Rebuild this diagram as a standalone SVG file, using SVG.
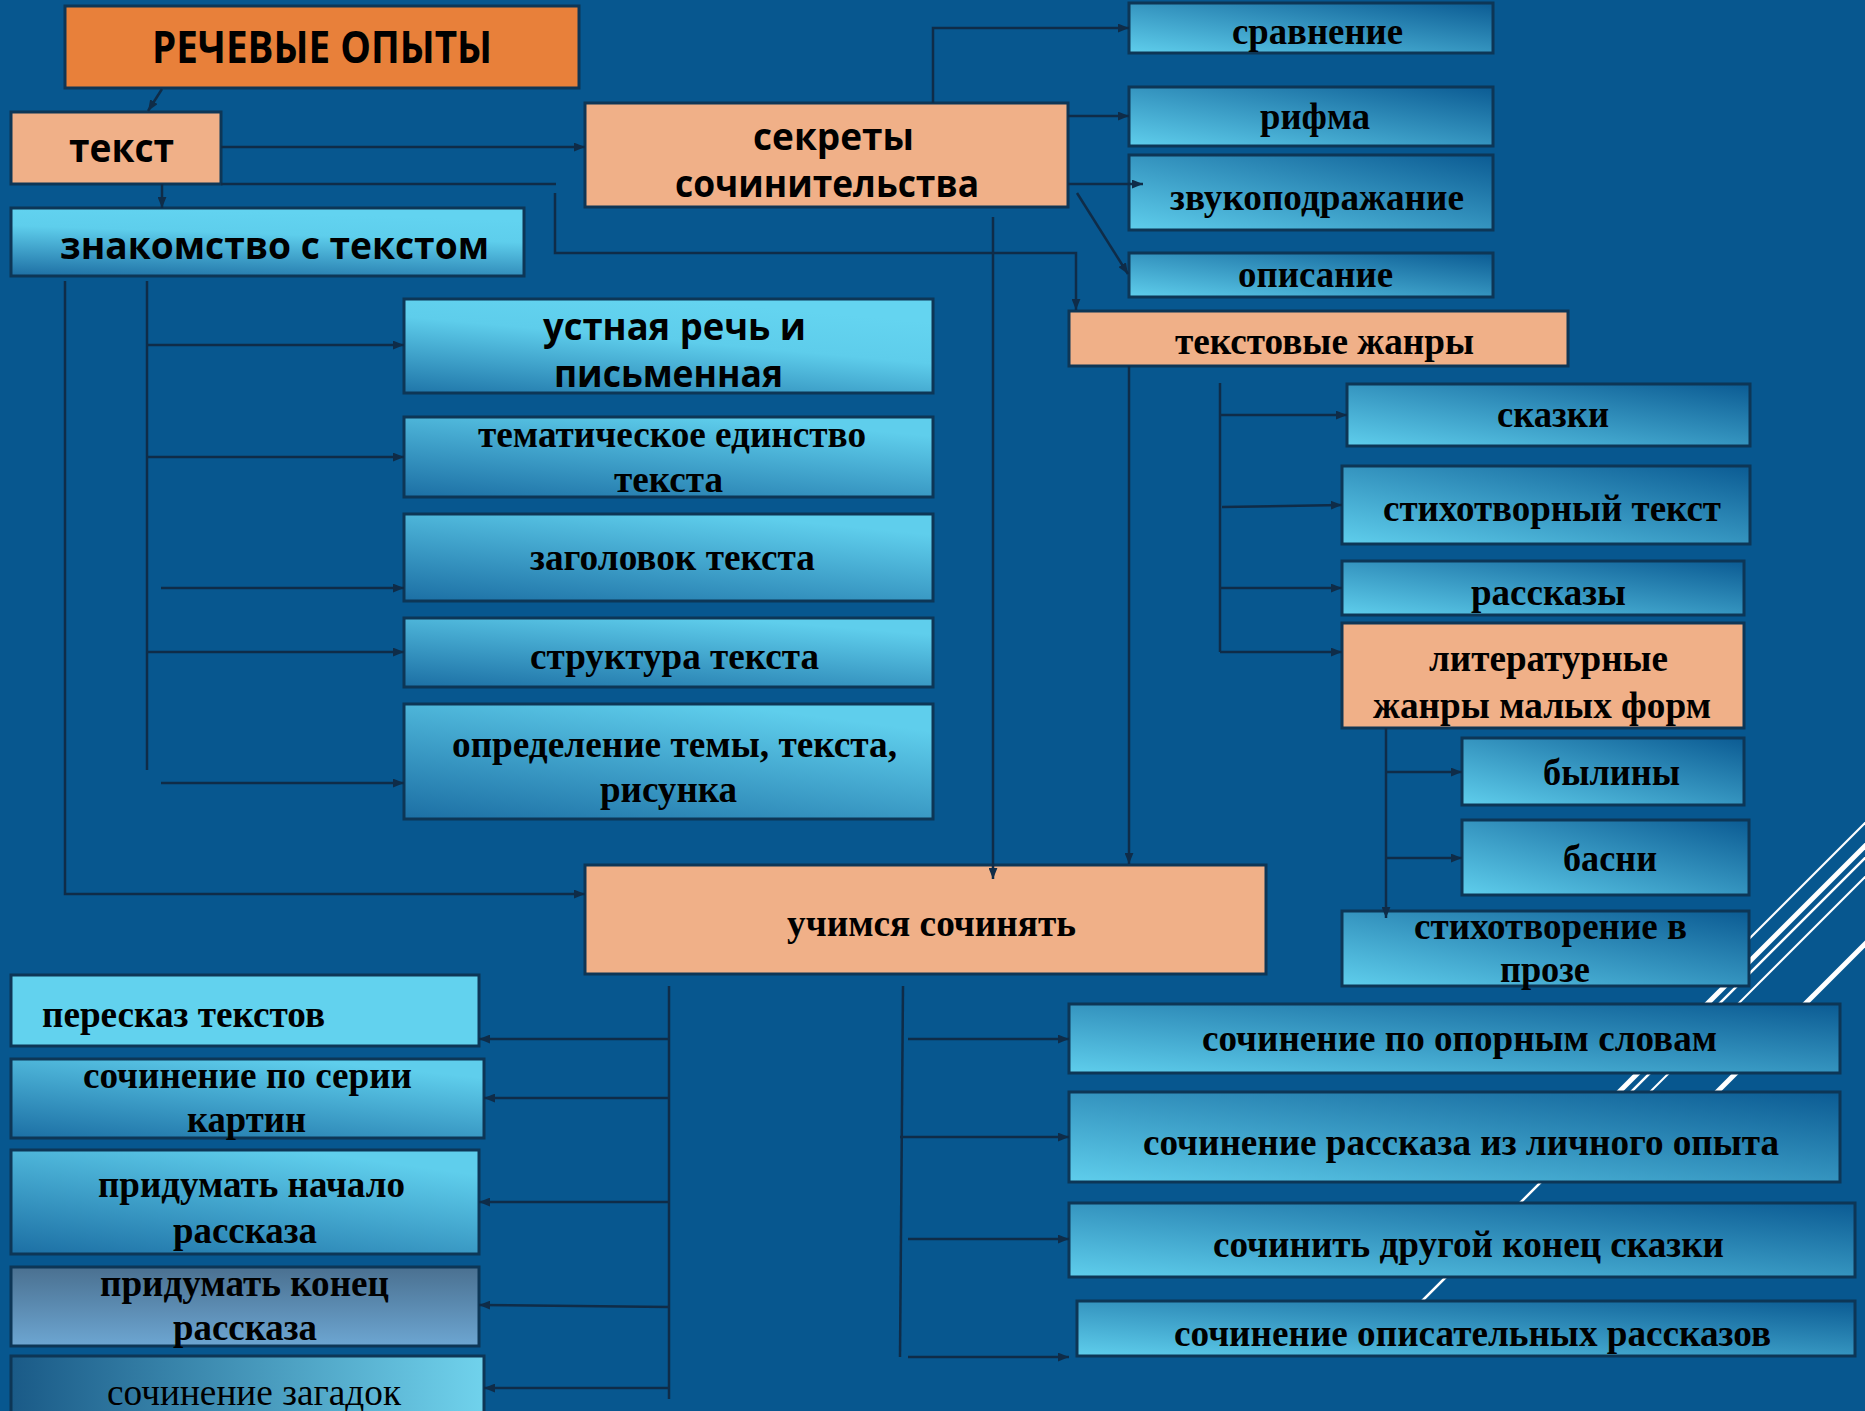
<svg xmlns="http://www.w3.org/2000/svg" width="1865" height="1411" viewBox="0 0 1865 1411">
<defs>
<style>
.bx{stroke:#0D3656;stroke-width:3}
.ln{fill:none;stroke:#0F2C48;stroke-width:2.5}
.ar{marker-end:url(#ah)}
.ss{font-family:"Open Sans","Noto Sans","DejaVu Sans",sans-serif;font-weight:700;fill:#000}
.sf{font-family:"Liberation Serif","Times New Roman",serif;font-weight:700;font-size:38px;fill:#000}
.st{stroke:#fff;fill:none}
.orange{fill:#E8803A}
.peach{fill:#F0B088}
.gA{fill:url(#gA)}
.gB{fill:url(#gB)}
.gU{fill:url(#gU)}
.gZ{fill:url(#gZ)}
.gK{fill:url(#gK)}
.gL{fill:url(#gL)}
.cy{fill:#62D2EE}
</style>
<marker id="ah" viewBox="0 0 10 8" refX="10" refY="4" markerWidth="11" markerHeight="9" markerUnits="userSpaceOnUse" orient="auto"><path d="M0,0 L10,4 L0,8 z" fill="#0F2C48"/></marker>
<linearGradient id="gA" x1="0" y1="1" x2="1" y2="0"><stop offset="0" stop-color="#5FCEEC"/><stop offset="1" stop-color="#0B5B93"/></linearGradient>
<linearGradient id="gB" x1="0" y1="1" x2="0.6" y2="0"><stop offset="0" stop-color="#1C6FA4"/><stop offset="1" stop-color="#5FCEEC"/></linearGradient>
<linearGradient id="gU" x1="0" y1="1" x2="0.5" y2="0"><stop offset="0" stop-color="#1F75A8"/><stop offset="0.65" stop-color="#5ECDEB"/><stop offset="1" stop-color="#64D4F0"/></linearGradient>
<linearGradient id="gZ" x1="0" y1="1" x2="0.25" y2="0"><stop offset="0" stop-color="#1D6EA3"/><stop offset="0.7" stop-color="#5ECEEC"/><stop offset="1" stop-color="#62D3F0"/></linearGradient>
<linearGradient id="gK" x1="0" y1="0" x2="0" y2="1"><stop offset="0" stop-color="#4A7090"/><stop offset="1" stop-color="#6DA6D2"/></linearGradient>
<linearGradient id="gL" x1="0" y1="0" x2="1" y2="0"><stop offset="0" stop-color="#1A5A87"/><stop offset="1" stop-color="#70D2EC"/></linearGradient>
</defs>
<rect width="1865" height="1411" fill="#07578F"/>
<g id="stripes">
<line class="st" stroke-width="2" x1="1875" y1="813" x2="1730" y2="958"/>
<line class="st" stroke-width="5" x1="1875" y1="836" x2="1560" y2="1151"/>
<line class="st" stroke-width="2.5" x1="1875" y1="848" x2="1400" y2="1323"/>
<line class="st" stroke-width="2" x1="1875" y1="867" x2="1580" y2="1162"/>
<line class="st" stroke-width="5" x1="1875" y1="934" x2="1660" y2="1149"/>
</g>
<g id="nodes">
<g id="n-rechevye"><rect class="bx orange" x="65" y="6" width="514" height="82"/><text class="ss" font-size="45" x="152" y="63" textLength="340" lengthAdjust="spacingAndGlyphs">РЕЧЕВЫЕ ОПЫТЫ</text></g>
<g id="n-tekst"><rect class="bx peach" x="11" y="112" width="210" height="72"/><text class="ss" font-size="40" x="69" y="162" textLength="105" lengthAdjust="spacingAndGlyphs">текст</text></g>
<g id="n-sekrety"><rect class="bx peach" x="585" y="103" width="483" height="104"/><text class="ss" font-size="37" x="753" y="150" textLength="161" lengthAdjust="spacingAndGlyphs">секреты</text><text class="ss" font-size="37" x="675" y="197" textLength="304" lengthAdjust="spacingAndGlyphs">сочинительства</text></g>
<g id="n-znakomstvo"><rect class="bx gZ" x="11" y="208" width="513" height="68"/><text class="ss" font-size="38" x="60" y="259" textLength="429" lengthAdjust="spacingAndGlyphs">знакомство с текстом</text></g>
<g id="n-sravnenie"><rect class="bx gA" x="1129" y="3" width="364" height="50"/><text class="sf" x="1232" y="44" textLength="171" lengthAdjust="spacingAndGlyphs">сравнение</text></g>
<g id="n-rifma"><rect class="bx gA" x="1129" y="87" width="364" height="59"/><text class="sf" x="1260" y="129" textLength="110" lengthAdjust="spacingAndGlyphs">рифма</text></g>
<g id="n-zvuko"><rect class="bx gA" x="1129" y="155" width="364" height="75"/><text class="sf" x="1170" y="210" textLength="294" lengthAdjust="spacingAndGlyphs">звукоподражание</text></g>
<g id="n-opisanie"><rect class="bx gA" x="1129" y="253" width="364" height="44"/><text class="sf" x="1238" y="287" textLength="155" lengthAdjust="spacingAndGlyphs">описание</text></g>
<g id="n-zhanry"><rect class="bx peach" x="1069" y="311" width="499" height="55"/><text class="sf" x="1175" y="354" textLength="299" lengthAdjust="spacingAndGlyphs">текстовые жанры</text></g>
<g id="n-ustnaya"><rect class="bx gU" x="404" y="299" width="529" height="94"/><text class="ss" font-size="37" x="543" y="340" textLength="263" lengthAdjust="spacingAndGlyphs">устная речь и</text><text class="ss" font-size="37" x="554" y="387" textLength="229" lengthAdjust="spacingAndGlyphs">письменная</text></g>
<g id="n-temat"><rect class="bx gB" x="404" y="417" width="529" height="80"/><text class="sf" x="478" y="447" textLength="388" lengthAdjust="spacingAndGlyphs">тематическое единство</text><text class="sf" x="614" y="492" textLength="109" lengthAdjust="spacingAndGlyphs">текста</text></g>
<g id="n-zagolovok"><rect class="bx gB" x="404" y="514" width="529" height="87"/><text class="sf" x="530" y="570" textLength="285" lengthAdjust="spacingAndGlyphs">заголовок текста</text></g>
<g id="n-struktura"><rect class="bx gB" x="404" y="618" width="529" height="69"/><text class="sf" x="530" y="669" textLength="289" lengthAdjust="spacingAndGlyphs">структура текста</text></g>
<g id="n-opredelenie"><rect class="bx gB" x="404" y="704" width="529" height="115"/><text class="sf" x="452" y="757" textLength="445" lengthAdjust="spacingAndGlyphs">определение темы, текста,</text><text class="sf" x="600" y="802" textLength="137" lengthAdjust="spacingAndGlyphs">рисунка</text></g>
<g id="n-uchimsya"><rect class="bx peach" x="585" y="865" width="681" height="109"/><text class="sf" x="787" y="936" textLength="289" lengthAdjust="spacingAndGlyphs">учимся сочинять</text></g>
<g id="n-skazki"><rect class="bx gA" x="1347" y="384" width="403" height="62"/><text class="sf" x="1497" y="427" textLength="112" lengthAdjust="spacingAndGlyphs">сказки</text></g>
<g id="n-stikhotvorny"><rect class="bx gA" x="1342" y="466" width="408" height="78"/><text class="sf" x="1383" y="521" textLength="338" lengthAdjust="spacingAndGlyphs">стихотворный текст</text></g>
<g id="n-rasskazy"><rect class="bx gA" x="1342" y="561" width="402" height="54"/><text class="sf" x="1471" y="605" textLength="155" lengthAdjust="spacingAndGlyphs">рассказы</text></g>
<g id="n-literaturnye"><rect class="bx peach" x="1342" y="623" width="402" height="105"/><text class="sf" x="1429" y="671" textLength="239" lengthAdjust="spacingAndGlyphs">литературные</text><text class="sf" x="1373" y="718" textLength="338" lengthAdjust="spacingAndGlyphs">жанры малых форм</text></g>
<g id="n-byliny"><rect class="bx gA" x="1462" y="738" width="282" height="67"/><text class="sf" x="1543" y="785" textLength="137" lengthAdjust="spacingAndGlyphs">былины</text></g>
<g id="n-basni"><rect class="bx gA" x="1462" y="820" width="287" height="75"/><text class="sf" x="1563" y="871" textLength="94" lengthAdjust="spacingAndGlyphs">басни</text></g>
<g id="n-proza"><rect class="bx gA" x="1342" y="911" width="407" height="75"/><text class="sf" x="1414" y="939" textLength="273" lengthAdjust="spacingAndGlyphs">стихотворение в</text><text class="sf" x="1500" y="982" textLength="90" lengthAdjust="spacingAndGlyphs">прозе</text></g>
<g id="n-opornym"><rect class="bx gA" x="1069" y="1004" width="771" height="69"/><text class="sf" x="1202" y="1051" textLength="515" lengthAdjust="spacingAndGlyphs">сочинение по опорным словам</text></g>
<g id="n-lichnogo"><rect class="bx gA" x="1069" y="1092" width="771" height="90"/><text class="sf" x="1143" y="1155" textLength="636" lengthAdjust="spacingAndGlyphs">сочинение рассказа из личного опыта</text></g>
<g id="n-drugoy"><rect class="bx gA" x="1069" y="1203" width="786" height="74"/><text class="sf" x="1213" y="1257" textLength="511" lengthAdjust="spacingAndGlyphs">сочинить другой конец сказки</text></g>
<g id="n-opisatelnykh"><rect class="bx gA" x="1077" y="1301" width="778" height="55"/><text class="sf" x="1174" y="1346" textLength="597" lengthAdjust="spacingAndGlyphs">сочинение описательных рассказов</text></g>
<g id="n-pereskaz"><rect class="bx cy" x="11" y="975" width="468" height="71"/><text class="sf" x="42" y="1027" textLength="283" lengthAdjust="spacingAndGlyphs">пересказ текстов</text></g>
<g id="n-serii"><rect class="bx gB" x="11" y="1059" width="473" height="79"/><text class="sf" x="83" y="1088" textLength="329" lengthAdjust="spacingAndGlyphs">сочинение по серии</text><text class="sf" x="187" y="1132" textLength="119" lengthAdjust="spacingAndGlyphs">картин</text></g>
<g id="n-nachalo"><rect class="bx gB" x="11" y="1150" width="468" height="104"/><text class="sf" x="98" y="1197" textLength="307" lengthAdjust="spacingAndGlyphs">придумать начало</text><text class="sf" x="173" y="1243" textLength="144" lengthAdjust="spacingAndGlyphs">рассказа</text></g>
<g id="n-konec"><rect class="bx gK" x="11" y="1267" width="468" height="79"/><text class="sf" x="100" y="1296" textLength="289" lengthAdjust="spacingAndGlyphs">придумать конец</text><text class="sf" x="173" y="1340" textLength="144" lengthAdjust="spacingAndGlyphs">рассказа</text></g>
<g id="n-zagadok"><rect class="bx gL" x="11" y="1356" width="473" height="70"/><text class="sf" font-weight="400" x="107" y="1405" textLength="294" lengthAdjust="spacingAndGlyphs" style="font-weight:400">сочинение загадок</text></g>
</g>
<g id="connectors">
<path class="ln ar" d="M162,89 L148,111"/>
<path class="ln ar" d="M221,147 H585"/>
<path class="ln ar" d="M162,184 V208"/>
<path class="ln" d="M221,184 H556"/>
<path class="ln ar" d="M555,193 V253 H1076 V310"/>
<path class="ln ar" d="M933,103 V28 H1129"/>
<path class="ln ar" d="M1068,116 H1129"/>
<path class="ln ar" d="M1068,184 H1143"/>
<path class="ln ar" d="M1077,193 L1128,274"/>
<path class="ln ar" d="M993,217 V879"/>
<path class="ln ar" d="M1129,366 V864"/>
<path class="ln" d="M1220,383 V652"/>
<path class="ln ar" d="M1220,415 H1347"/>
<path class="ln ar" d="M1222,507 L1342,505"/>
<path class="ln ar" d="M1220,588 H1342"/>
<path class="ln ar" d="M1220,652 H1342"/>
<path class="ln ar" d="M1386,728 V918"/>
<path class="ln ar" d="M1386,772 H1462"/>
<path class="ln ar" d="M1386,858 H1462"/>
<path class="ln ar" d="M65,281 V894 H585"/>
<path class="ln" d="M147,281 V770"/>
<path class="ln ar" d="M147,345 H404"/>
<path class="ln ar" d="M147,457 H404"/>
<path class="ln ar" d="M161,588 H404"/>
<path class="ln ar" d="M147,652 H404"/>
<path class="ln ar" d="M161,783 H404"/>
<path class="ln" d="M669,986 V1399"/>
<path class="ln ar" d="M669,1039 H479"/>
<path class="ln ar" d="M669,1098 H484"/>
<path class="ln ar" d="M669,1202 H479"/>
<path class="ln ar" d="M669,1307 L479,1305"/>
<path class="ln ar" d="M669,1388 H484"/>
<path class="ln" d="M903,986 L900,1357"/>
<path class="ln ar" d="M908,1039 H1069"/>
<path class="ln ar" d="M900,1137 H1069"/>
<path class="ln ar" d="M908,1239 H1069"/>
<path class="ln ar" d="M908,1357 H1069"/>
</g>
</svg>
